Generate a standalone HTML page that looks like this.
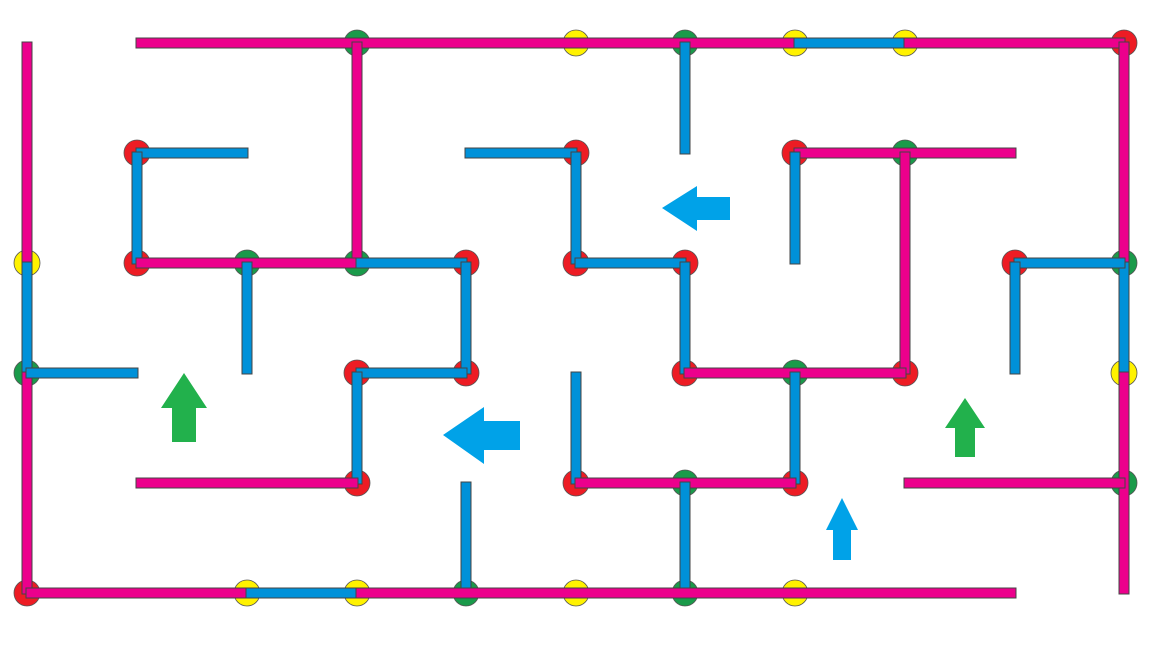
<!DOCTYPE html>
<html><head><meta charset="utf-8"><style>
html,body{margin:0;padding:0;background:#fff;}
svg{display:block;}
</style></head><body>
<svg id="maze" width="1152" height="648" viewBox="0 0 1152 648" xmlns="http://www.w3.org/2000/svg">
<rect width="1152" height="648" fill="#fff"/>
<g id="nodes"></g>
<g id="walls"></g>
<g id="arrows">
 <polygon points="662,208 697,186 697,197 730,197 730,220 697,220 697,231" fill="#00a2e8"/>
 <polygon points="443,435 484,407 484,421 520,421 520,450 484,450 484,464" fill="#00a2e8"/>
 <polygon points="184,373 207,408 196,408 196,442 172,442 172,408 161,408" fill="#22b14c"/>
 <polygon points="965,398 985,428 975,428 975,457 955,457 955,428 945,428" fill="#22b14c"/>
 <polygon points="842,498 858,530 851,530 851,560 833,560 833,530 826,530" fill="#00a2e8"/>
</g>
</svg>
<script>
const X=[27,137,247,357,466,576,685,795,905,1015,1124];
const Y=[43,153,263,373,483,593];
const COL={r:'#ed1c24',g:'#1a9a4a',y:'#fff200'};
const nodes=[[3,0,'g'],[5,0,'y'],[6,0,'g'],[7,0,'y'],[8,0,'y'],[10,0,'r'],
[1,1,'r'],[5,1,'r'],[7,1,'r'],[8,1,'g'],
[0,2,'y'],[1,2,'r'],[2,2,'g'],[3,2,'g'],[4,2,'r'],[5,2,'r'],[6,2,'r'],[9,2,'r'],[10,2,'g'],
[0,3,'g'],[3,3,'r'],[4,3,'r'],[6,3,'r'],[7,3,'g'],[8,3,'r'],[10,3,'y'],
[3,4,'r'],[5,4,'r'],[6,4,'g'],[7,4,'r'],[10,4,'g'],
[0,5,'r'],[2,5,'y'],[3,5,'y'],[4,5,'g'],[5,5,'y'],[6,5,'g'],[7,5,'y']];
const walls=[
[1,0,7,0,'p'],[7,0,8,0,'b'],[8,0,10,0,'p'],
[0,0,0,2,'p'],[0,2,0,3,'b'],[0,3,0,5,'p'],
[3,0,3,2,'p'],[6,0,6,1,'b'],
[10,0,10,2,'p'],[10,2,10,3,'b'],[10,3,10,5,'p'],
[1,1,2,1,'b'],[1,1,1,2,'b'],[4,1,5,1,'b'],[5,1,5,2,'b'],[7,1,9,1,'p'],[7,1,7,2,'b'],[8,1,8,3,'p'],
[1,2,3,2,'p'],[2,2,2,3,'b'],[3,2,4,2,'b'],[4,2,4,3,'b'],[5,2,6,2,'b'],[6,2,6,3,'b'],[9,2,10,2,'b'],[9,2,9,3,'b'],
[0,3,1,3,'b'],[3,3,4,3,'b'],[3,3,3,4,'b'],[6,3,8,3,'p'],[7,3,7,4,'b'],[5,3,5,4,'b'],
[1,4,3,4,'p'],[5,4,7,4,'p'],[6,4,6,5,'b'],[4,4,4,5,'b'],[8,4,10,4,'p'],
[0,5,2,5,'p'],[2,5,3,5,'b'],[3,5,9,5,'p']];
const NS='http://www.w3.org/2000/svg';
const ng=document.getElementById('nodes'), wg=document.getElementById('walls');
nodes.forEach(n=>{
 const c=document.createElementNS(NS,'circle');
 c.setAttribute('cx',X[n[0]]);c.setAttribute('cy',Y[n[1]]);c.setAttribute('r',13);
 c.setAttribute('fill',COL[n[2]]);c.setAttribute('stroke','#555');c.setAttribute('stroke-width','0.8');
 
 
 ng.appendChild(c);
});
walls.forEach(w=>{
 const x1=X[w[0]],y1=Y[w[1]],x2=X[w[2]],y2=Y[w[3]];
 const r=document.createElementNS(NS,'rect');
 const h=5, e=1;
 const horiz = y1===y2;
 const xs=Math.min(x1,x2), ys=Math.min(y1,y2);
 if(horiz){
  r.setAttribute('x',xs-e);r.setAttribute('y',ys-h);
  r.setAttribute('width',Math.abs(x2-x1)+2*e);r.setAttribute('height',2*h);
 } else {
  r.setAttribute('x',xs-h);r.setAttribute('y',ys-e);
  r.setAttribute('width',2*h);r.setAttribute('height',Math.abs(y2-y1)+2*e);
 }
 r.setAttribute('fill',w[4]==='p'?'#ec008c':'#0091d9');
 r.setAttribute('stroke','#444');r.setAttribute('stroke-width','1');
 
 
 wg.appendChild(r);
});
</script>
</body></html>
